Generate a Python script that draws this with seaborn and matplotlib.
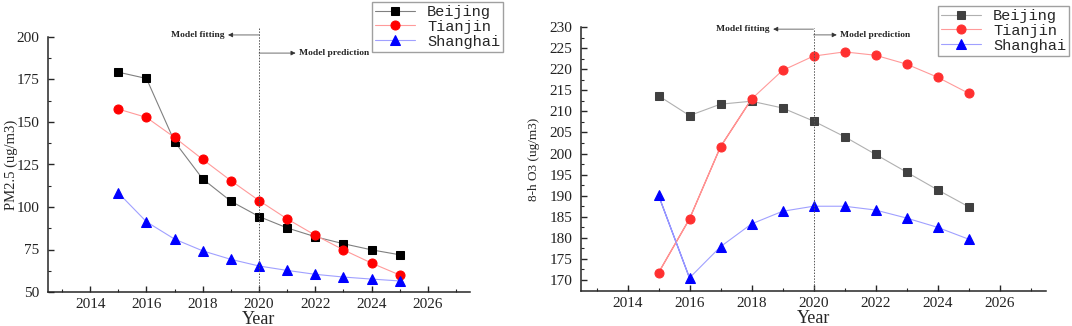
import numpy as np
import pandas as pd
import matplotlib
matplotlib.use("Agg")
import matplotlib.pyplot as plt
import seaborn as sns

years = list(range(2015, 2026))
cities = ["Beijing", "Tianjin", "Shanghai"]

pm25_beijing = [179.3, 175.6, 138.4, 116.5, 103.4, 94.4, 87.7, 82.5, 78.4, 74.8, 71.9]
pm25_tianjin = [157.6, 152.7, 140.9, 128.0, 115.5, 103.8, 93.0, 83.4, 74.8, 67.0, 60.0]
pm25_shanghai = [108.3, 91.3, 81.1, 74.2, 69.2, 65.3, 62.7, 60.4, 58.8, 57.6, 56.5]

o3_beijing = [213.7, 209.0, 211.7, 212.4, 210.8, 207.7, 204.0, 199.8, 195.6, 191.4, 187.4]
o3_tianjin = [171.7, 184.5, 201.6, 212.9, 219.7, 223.1, 224.1, 223.3, 221.2, 218.1, 214.3]
o3_shanghai = [190.1, 170.5, 177.9, 183.3, 186.3, 187.5, 187.5, 186.6, 184.7, 182.5, 179.7]

sns.set_style("ticks")
plt.rcParams["font.family"] = ["Liberation Serif", "DejaVu Serif"]


def long_table(b, t, s):
    return pd.DataFrame({
        "Year": years * 3,
        "value": b + t + s,
        "city": [c for c in cities for _ in years],
    })


def draw_panel(ax, df, marker_colors, line_colors, ylim, yticks, yminor, ylabel):
    sns.lineplot(data=df, x="Year", y="value", hue="city", style="city",
                 palette=dict(zip(cities, line_colors)),
                 markers={"Beijing": "s", "Tianjin": "o", "Shanghai": "^"},
                 dashes=False, linewidth=0.8, legend=False, ax=ax)
    sizes = {"Beijing": 6, "Tianjin": 6.5, "Shanghai": 7}
    for line, city, mc in zip(ax.lines[:3], cities, marker_colors):
        line.set_markerfacecolor(mc)
        line.set_markeredgecolor(mc)
        line.set_markersize(sizes[city])
    ax.set_xlim(2012.5, 2027.5)
    ax.set_ylim(*ylim)
    ax.set_xticks(range(2014, 2027, 2))
    ax.set_xticks(range(2013, 2028, 2), minor=True)
    ax.set_yticks(yticks)
    ax.set_yticks(yminor, minor=True)
    ax.tick_params(which="major", direction="in", length=4, width=1, labelsize=11,
                   pad=4, labelcolor="#222222")
    ax.tick_params(which="minor", direction="in", length=2.5, width=0.8)
    ax.tick_params(axis="y", pad=6)
    for sp in ["left", "bottom"]:
        ax.spines[sp].set_linewidth(1.1)
    sns.despine(ax=ax)
    ax.set_xlabel("Year", fontsize=13, labelpad=0)
    ax.set_ylabel(ylabel, fontsize=10.5)
    return ax


fig = plt.figure(figsize=(10.72, 3.26), dpi=100)
ax1 = fig.add_axes([48 / 1072, 34 / 326, 422 / 1072, 255 / 326])
ax2 = fig.add_axes([581 / 1072, 35 / 326, 465 / 1072, 264 / 326])

draw_panel(ax1, long_table(pm25_beijing, pm25_tianjin, pm25_shanghai),
           ["black", "red", "blue"], ["#808080", "#ff9a9a", "#a0a0ff"],
           (50, 200), range(50, 201, 25), np.arange(62.5, 200, 25), "PM2.5 (ug/m3)")
draw_panel(ax2, long_table(o3_beijing, o3_tianjin, o3_shanghai),
           ["#404040", "#ff3030", "blue"], ["#b0b0b0", "#ff9a9a", "#a0a0ff"],
           (167.4, 230), range(170, 231, 5), np.arange(172.5, 230, 5), "8-h O3 (ug/m3)")
ax1.yaxis.set_label_coords(-0.072, 0.5)
ax2.yaxis.label.set_size(9.5)
ax2.yaxis.set_label_coords(-0.088, 0.5)
# the early segments look stronger in the right panel
ax2.plot(years[:4], o3_tianjin[:4], color="#ff4a4a", lw=0.9, zorder=1.5)
ax2.plot(years[:2], o3_shanghai[:2], color="#3c3cff", lw=0.9, zorder=1.5)

# model fitting / prediction marks
for ax, top, yfit, ypred, xfit, xpred in [
        (ax1, 1.035, 1.008, 0.937, 2018.9, 2021.3),
        (ax2, 0.995, 0.992, 0.970, 2018.7, 2020.75)]:
    tr = ax.get_xaxis_transform()
    ax.plot([2020, 2020], [0, top], transform=tr, color="#555555", lw=0.7,
            ls=(0, (1.5, 1.5)), clip_on=False)
    ax.annotate("", xy=(xfit, yfit), xytext=(2020, yfit), xycoords=tr, textcoords=tr,
                arrowprops=dict(arrowstyle="-|>", color="#333333", lw=0.5,
                                mutation_scale=7, shrinkA=0, shrinkB=0),
                annotation_clip=False)
    ax.annotate("", xy=(xpred, ypred), xytext=(2020, ypred), xycoords=tr, textcoords=tr,
                arrowprops=dict(arrowstyle="-|>", color="#333333", lw=0.5,
                                mutation_scale=7, shrinkA=0, shrinkB=0),
                annotation_clip=False)
    ax.text(xfit - 0.12, yfit, "Model fitting", transform=tr, ha="right", va="center",
            fontsize=6.8, fontweight="bold", clip_on=False)
    ax.text(xpred + 0.12, ypred, "Model prediction", transform=tr, ha="left", va="center",
            fontsize=6.8, fontweight="bold", clip_on=False)

for ax, x0, y0 in [(ax1, 372, 2), (ax2, 938, 6)]:
    leg = ax.legend(handles=ax.lines[:3], labels=cities, loc="upper left",
                    bbox_to_anchor=(x0 / 1072, 1 - y0 / 326), bbox_transform=fig.transFigure,
                    prop={"family": "Liberation Mono", "size": 11}, handlelength=2.6,
                    borderpad=0.2, labelspacing=0.05, handletextpad=0.8, borderaxespad=0,
                    fancybox=False, frameon=True)
    leg.get_frame().set_edgecolor("#888888")
    leg.get_frame().set_linewidth(1.0)

fig.savefig("out.png", dpi=100)
